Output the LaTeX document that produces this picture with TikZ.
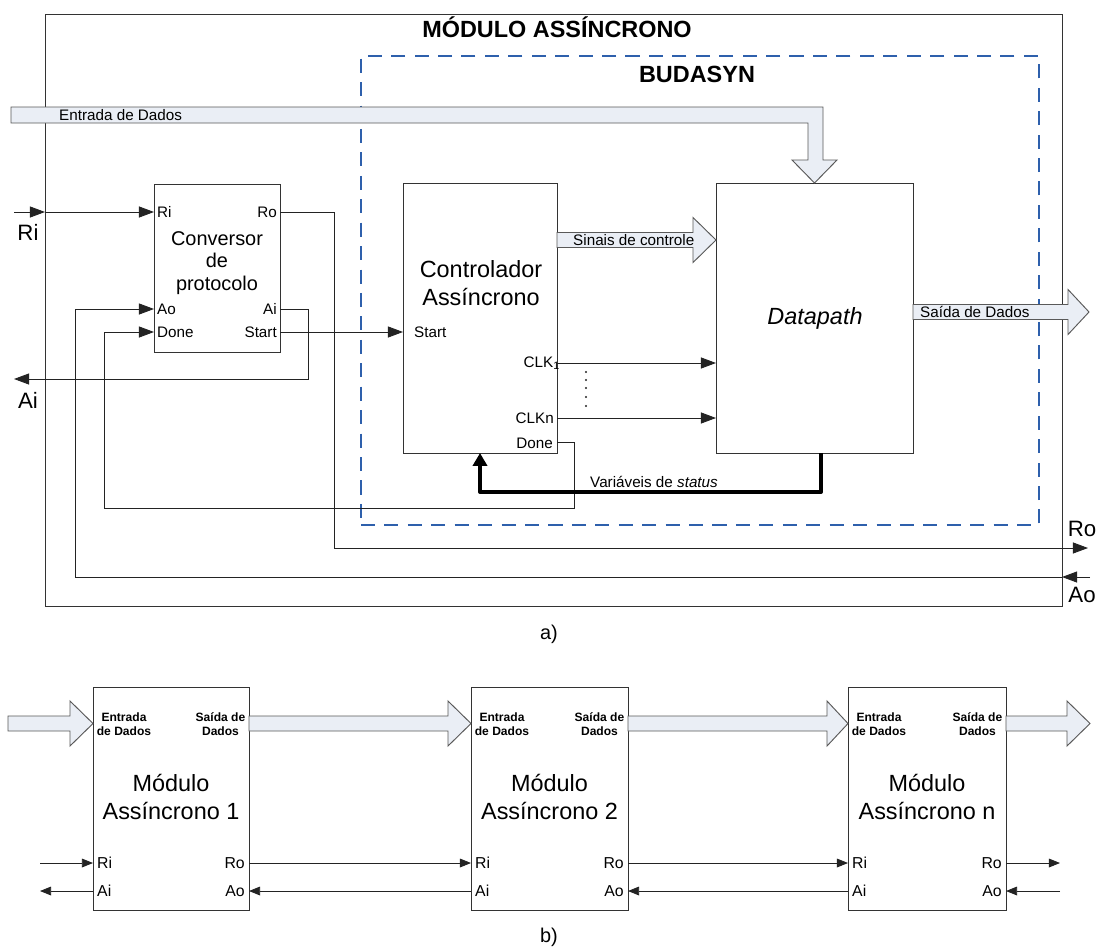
\documentclass[tikz,border=0pt]{standalone}
\usepackage{fontspec}
\setmainfont{Liberation Sans}
\usetikzlibrary{arrows.meta,fit}

\definecolor{busfill}{RGB}{234,238,245}
\definecolor{budblue}{RGB}{46,96,172}
\definecolor{wirecol}{RGB}{35,35,35}

% horizontal block arrow: start x, head base x, tip x, centre y
\newcommand\hbus[4]{%
  \draw[bus] (#1,#4-7.5) -- (#2,#4-7.5) -- (#2,#4-22.5) -- (#3,#4)
    -- (#2,#4+22.5) -- (#2,#4+7.5) -- (#1,#4+7.5) -- cycle;}

\begin{document}
\begin{tikzpicture}[x=0.03cm,y=-0.03cm,
  blk/.style={draw=black!80, line width=0.85pt, inner sep=0pt, outer sep=0pt},
  wbox/.style={blk, fill=white},
  frame/.style={draw=budblue, line width=1.6pt, dash pattern=on 12pt off 8pt, inner sep=0pt},
  wire/.style={draw=wirecol, line width=0.75pt},
  sig/.style={wire, -{Triangle[length=13pt,width=9.5pt]}},
  sigs/.style={wire, -{Triangle[length=9.5pt,width=7.5pt]}},
  status/.style={draw=black, line width=3.4pt, line join=round, -{Triangle[length=11pt,width=12pt]}},
  bus/.style={draw=black!65, line width=0.8pt, fill=busfill, line join=miter},
  ttl/.style={font=\fontsize{20}{24}\selectfont\bfseries, inner sep=0pt, anchor=base},
  lab/.style={font=\fontsize{13}{15}\selectfont, inner sep=0pt},
  pinbig/.style={font=\fontsize{19}{22}\selectfont, inner sep=0pt},
  conv/.style={font=\fontsize{17}{19}\selectfont, inner sep=0pt, align=center},
  bigtxt/.style={font=\fontsize{20}{23.8}\selectfont, inner sep=0pt, align=center},
  tinyb/.style={font=\fontsize{10.3}{11.8}\selectfont\bfseries, inner sep=0pt, align=center},
  pinb/.style={font=\fontsize{13.5}{16}\selectfont, inner sep=0pt},
  captxt/.style={font=\fontsize{17}{19}\selectfont, inner sep=0pt}]
\useasboundingbox (0,0) rectangle (1100,948);

% ---------------- a) asynchronous module ----------------
\node[wbox, fit={(45,14) (1062,606)}] (mod) {};
\node[frame, fit={(361,56) (1039,525)}] (bud) {};
\node[ttl] (modT) at (557,37) {MÓDULO ASSÍNCRONO};
\node[ttl] (budT) at (697,82) {BUDASYN};

\node[wbox, fit={(154,184) (280,352)}] (cv) {};
\node[wbox, fit={(403,183) (557,453)}] (ctrl) {};
\node[wbox, fit={(716,183) (913,453)}] (dp) {};

% free ends of the external handshake wires
\coordinate (riL) at (14,212);
\coordinate (aiL) at (14,379);
\coordinate (roR) at (1088,548);
\coordinate (aoR) at (1090,577);

% data input bus, bent down into the datapath
\draw[bus] (11,107) -- (823,107) -- (823,160) -- (837,160) -- (dp.north)
  -- (792,160) -- (808,160) -- (808,123) -- (11,123) -- cycle;
\node[lab, anchor=base west] (entT) at (59,120) {Entrada de Dados};

% control signals bus and data output bus
\hbus{557}{693}{716}{240}
\node[lab, anchor=base west] (sinT) at (573,245) {Sinais de controle};
\hbus{913}{1068}{1089}{312}
\node[lab, anchor=base west] (saiT) at (920,317) {Saída de Dados};

% block texts
\node[conv] (cvT) at (217,263) {Conversor\\de\\protocolo};
\node[bigtxt] (ctrlT) at (481,283) {Controlador\\Assíncrono};
\node[bigtxt, font=\fontsize{20}{24}\selectfont\itshape] (dpT) at (815,318) {Datapath};

% pin names of the protocol converter
\node[lab, anchor=west] (cvRi) at (157,212) {Ri};
\node[lab, anchor=east] (cvRo) at (277,212) {Ro};
\node[lab, anchor=west] (cvAo) at (157,309) {Ao};
\node[lab, anchor=east] (cvAi) at (277,309) {Ai};
\node[lab, anchor=west] (cvDone) at (157,332) {Done};
\node[lab, anchor=east] (cvStart) at (277,332) {Start};

% pin names of the controller
\node[lab, anchor=west] (ctStart) at (414,332) {Start};
\node[lab, anchor=east] (ctClk1) at (560,363) {CLK$_{\mathrm{1}}$};
\node[lab, anchor=east] (ctClkn) at (554,418) {CLKn};
\node[lab, anchor=east] (ctDone) at (553,443) {Done};

% external pin names
\node[pinbig] (extRi) at (28,232) {Ri};
\node[pinbig] (extAi) at (28,400) {Ai};
\node[pinbig] (extRo) at (1082,529) {Ro};
\node[pinbig] (extAo) at (1082,595) {Ao};

% handshake wiring
\draw[sig] (riL) -- (mod.west |- riL);
\draw[sig] (mod.west |- riL) -- (cv.west |- riL);
\draw[sig] (cv.east |- riL) -- (334,212) -- (334,548) -- (roR);
\draw[sig] (aoR) -- (mod.east |- aoR);
\draw[sig] (mod.east |- aoR) -- (75,577) -- (75,309) -- (cv.west |- 0,309);
\draw[sig] (cv.east |- 0,309) -- (308,309) -- (308,379) -- (aiL);
\draw[sig] (cv.east |- 0,332) -- (ctrl.west |- 0,332);
\draw[sig] (ctrl.east |- 0,442) -- (574,442) -- (574,508) -- (104,508)
  -- (104,332) -- (cv.west |- 0,332);

% clock lines
\draw[sig] (ctrl.east |- 0,363) -- (dp.west |- 0,363);
\draw[sig] (ctrl.east |- 0,418) -- (dp.west |- 0,418);
\foreach \yy in {372,380,388,397,406}
  \fill[wirecol] (586,\yy) circle[radius=0.9pt];

% status variables back to the controller
\draw[status] (dp.south -| 821,0) -- (821,492) -- (480,492) -- (ctrl.south -| 480,0);
\node[lab, anchor=base west] (staT) at (590,487) {Variáveis de \textit{status}};

\node[captxt] (capA) at (549,634) {a)};

% ---------------- b) pipeline of modules ----------------
\node[wbox, fit={(93,687) (249,910)}] (m1) {};
\node[wbox, fit={(471,687) (628,910)}] (m2) {};
\node[wbox, fit={(848,687) (1006,910)}] (mn) {};

\hbus{8}{70}{93}{723.5}
\hbus{249}{448}{471}{723.5}
\hbus{628}{827}{848}{723.5}
\hbus{1006}{1067}{1090}{723.5}

\foreach \m/\k in {m1/1, m2/2, mn/n} {
  \node[tinyb] (\m-in) at ([shift={(31,37)}]\m.north west) {Entrada\\de Dados};
  \node[tinyb] (\m-out) at ([shift={(-28.5,37)}]\m.north east) {Saída de\\Dados};
  \node[bigtxt] (\m-t) at ([shift={(0,110)}]\m.north) {Módulo\\Assíncrono \k};
  \node[pinb, anchor=west] (\m-ri) at ([shift={(4,176)}]\m.north west) {Ri};
  \node[pinb, anchor=west] (\m-ai) at ([shift={(4,204)}]\m.north west) {Ai};
  \node[pinb, anchor=east] (\m-ro) at ([shift={(-4,176)}]\m.north east) {Ro};
  \node[pinb, anchor=east] (\m-ao) at ([shift={(-4,204)}]\m.north east) {Ao};
}

\coordinate (riB) at (40,863);
\coordinate (aiB) at (40,891);
\coordinate (roB) at (1060,863);
\coordinate (aoB) at (1060,891);

\draw[sigs] (riB) -- (m1.west |- riB);
\draw[sigs] (m1.west |- aiB) -- (aiB);
\draw[sigs] (m1.east |- riB) -- (m2.west |- riB);
\draw[sigs] (m2.west |- aiB) -- (m1.east |- aiB);
\draw[sigs] (m2.east |- riB) -- (mn.west |- riB);
\draw[sigs] (mn.west |- aiB) -- (m2.east |- aiB);
\draw[sigs] (mn.east |- roB) -- (roB);
\draw[sigs] (aoB) -- (mn.east |- aoB);

\node[captxt] (capB) at (549,937) {b)};
\end{tikzpicture}
\end{document}
